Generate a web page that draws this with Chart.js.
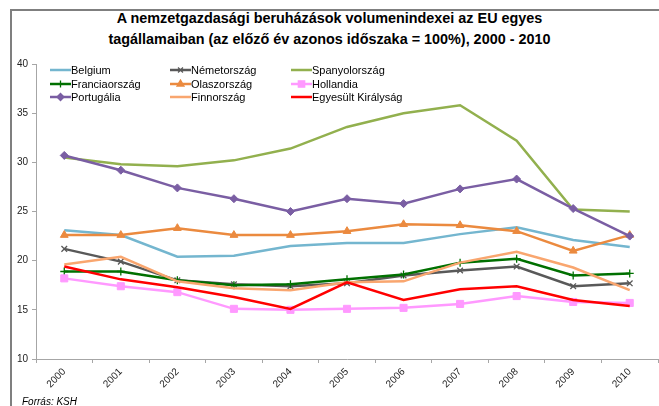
<!DOCTYPE html>
<html>
<head>
<meta charset="utf-8">
<script src="https://cdn.jsdelivr.net/npm/chart.js@4/dist/chart.umd.min.js"></script>
<style>
	html, body { margin: 0; padding: 0; background: #fff; overflow: hidden; }
	body { width: 659px; height: 406px; position: relative; font-family: "Liberation Sans", Arial, sans-serif; }
	#frame { position: absolute; left: 10px; top: 9px; width: 700px; height: 450px; border-left: 2px solid #7f7f7f; border-top: 2px solid #7f7f7f; }
	#title { position: absolute; left: 0; top: 8px; width: 659px; text-align: center; font-weight: bold; font-size: 14.4px; line-height: 21px; color: #000; }
	#box { position: absolute; left: 0; top: 0; width: 664px; height: 406px; }
	#legend { position: absolute; left: 50px; top: 63px; width: 400px; }
	.item { position: absolute; height: 14px; font-size: 11px; line-height: 14px; color: #000; white-space: nowrap; }
	.item canvas { position: absolute; left: 0; top: 2px; }
	.item span { position: absolute; left: 21px; top: 0; }
	#source { position: absolute; left: 22px; top: 396px; font-size: 10px; font-style: italic; color: #000; }
</style>
</head>
<body>
<div id="frame"></div>
<div id="title">A nemzetgazdasági beruházások volumenindexei az EU egyes<br>tagállamaiban (az előző év azonos időszaka = 100%), 2000 - 2010</div>
<div id="box"><canvas id="chart"></canvas></div>
<div id="legend"></div>
<div id="source">Forrás: KSH</div>
<script>
const years = ["2000", "2001", "2002", "2003", "2004", "2005", "2006", "2007", "2008", "2009", "2010"];

const belgium = [23.1, 22.6, 20.4, 20.5, 21.5, 21.8, 21.8, 22.7, 23.4, 22.1, 21.4];
const nemetorszag = [21.2, 19.9, 18.0, 17.6, 17.4, 17.7, 18.5, 19.0, 19.4, 17.4, 17.7];
const spanyolorszag = [30.5, 29.8, 29.6, 30.2, 31.4, 33.6, 35.0, 35.8, 32.2, 25.2, 25.0];
const franciaorszag = [18.9, 18.9, 18.0, 17.5, 17.6, 18.1, 18.6, 19.8, 20.2, 18.5, 18.7];
const olaszorszag = [22.6, 22.6, 23.3, 22.6, 22.6, 23.0, 23.7, 23.6, 23.0, 21.0, 22.6];
const hollandia = [18.2, 17.4, 16.8, 15.1, 15.0, 15.1, 15.2, 15.6, 16.4, 15.8, 15.7];
const portugalia = [30.7, 29.2, 27.4, 26.3, 25.0, 26.3, 25.8, 27.3, 28.3, 25.3, 22.5];
const finnorszag = [19.6, 20.4, 17.9, 17.2, 17.0, 17.8, 17.9, 19.8, 20.9, 19.3, 17.0];
const egyesultKiralysag = [19.4, 18.1, 17.3, 16.3, 15.1, 17.8, 16.0, 17.1, 17.4, 16.0, 15.4];

const yTicks = [10, 15, 20, 25, 30, 35, 40];

// legend order, 3 columns
const series = [
	{ label: "Belgium", data: belgium, color: "#74b6cf", style: false },
	{ label: "Németország", data: nemetorszag, color: "#595959", style: "crossRot" },
	{ label: "Spanyolország", data: spanyolorszag, color: "#92b04e", style: false },
	{ label: "Franciaország", data: franciaorszag, color: "#007000", style: "cross" },
	{ label: "Olaszország", data: olaszorszag, color: "#eb8a3f", style: "triangle" },
	{ label: "Hollandia", data: hollandia, color: "#ff99ff", style: "rect" },
	{ label: "Portugália", data: portugalia, color: "#7a5ea3", style: "rectRot" },
	{ label: "Finnország", data: finnorszag, color: "#f9a66f", style: false },
	{ label: "Egyesült Királyság", data: egyesultKiralysag, color: "#ff0000", style: false },
];

const markerRadius = (style) => (style === "rect" ? 5 : style === "triangle" ? 4.5 : 4);

const datasets = series.map((s, i) => ({
	label: s.label,
	data: s.data,
	borderColor: s.color,
	backgroundColor: s.color,
	borderWidth: 2.5,
	pointStyle: s.style || "circle",
	pointRadius: s.style ? markerRadius(s.style) : 0,
	pointBorderWidth: s.style === "cross" || s.style === "crossRot" ? 1.3 : 1,
	pointHoverRadius: 0,
	tension: 0,
	fill: false,
	order: series.length - i,
}));

const axisColor = "#a6a6a6";

new Chart(document.getElementById("chart").getContext("2d"), {
	type: "line",
	data: { labels: years, datasets: datasets },
	options: {
		responsive: true,
		maintainAspectRatio: false,
		animation: false,
		layout: { padding: { left: 0, top: 64, right: 3, bottom: 0 } },
		plugins: {
			legend: { display: false },
			title: { display: false },
			tooltip: { enabled: false },
		},
		scales: {
			x: {
				offset: true,
				grid: { display: true, drawOnChartArea: false, offset: true, tickLength: 4, color: axisColor },
				border: { color: axisColor, width: 1 },
				ticks: {
					maxRotation: 45,
					minRotation: 45,
					padding: 3,
					color: "#222",
					font: { family: "'Liberation Sans', Arial", size: 10 },
				},
				afterFit: (scale) => { scale.height = 47; },
			},
			y: {
				min: 10,
				max: 40,
				afterBuildTicks: (scale) => { scale.ticks = yTicks.map((v) => ({ value: v })); },
				grid: { display: true, drawOnChartArea: false, tickLength: 4, color: axisColor },
				border: { color: axisColor, width: 1 },
				ticks: {
					padding: 4,
					color: "#222",
					font: { family: "'Liberation Sans', Arial", size: 10 },
				},
				afterFit: (scale) => { scale.width = 36; },
			},
		},
	},
});

// html legend, 3 columns x 3 rows
const legendEl = document.getElementById("legend");
const colX = [0, 120, 241];
const rowY = [0, 13.5, 27];
series.forEach((s, i) => {
	const item = document.createElement("div");
	item.className = "item";
	item.style.left = colX[i % 3] + "px";
	item.style.top = rowY[Math.floor(i / 3)] + "px";
	const c = document.createElement("canvas");
	c.width = 21;
	c.height = 10;
	const ctx = c.getContext("2d");
	ctx.strokeStyle = s.color;
	ctx.fillStyle = s.color;
	ctx.lineWidth = 2.5;
	ctx.beginPath();
	ctx.moveTo(0, 5);
	ctx.lineTo(21, 5);
	ctx.stroke();
	if (s.style && Chart.helpers && Chart.helpers.drawPoint) {
		ctx.lineWidth = 1.3;
		Chart.helpers.drawPoint(ctx, { pointStyle: s.style, radius: markerRadius(s.style) - 0.5, borderWidth: 1, rotation: 0 }, 10.5, 5);
	}
	const t = document.createElement("span");
	t.textContent = s.label;
	item.appendChild(c);
	item.appendChild(t);
	legendEl.appendChild(item);
});
</script>
</body>
</html>
